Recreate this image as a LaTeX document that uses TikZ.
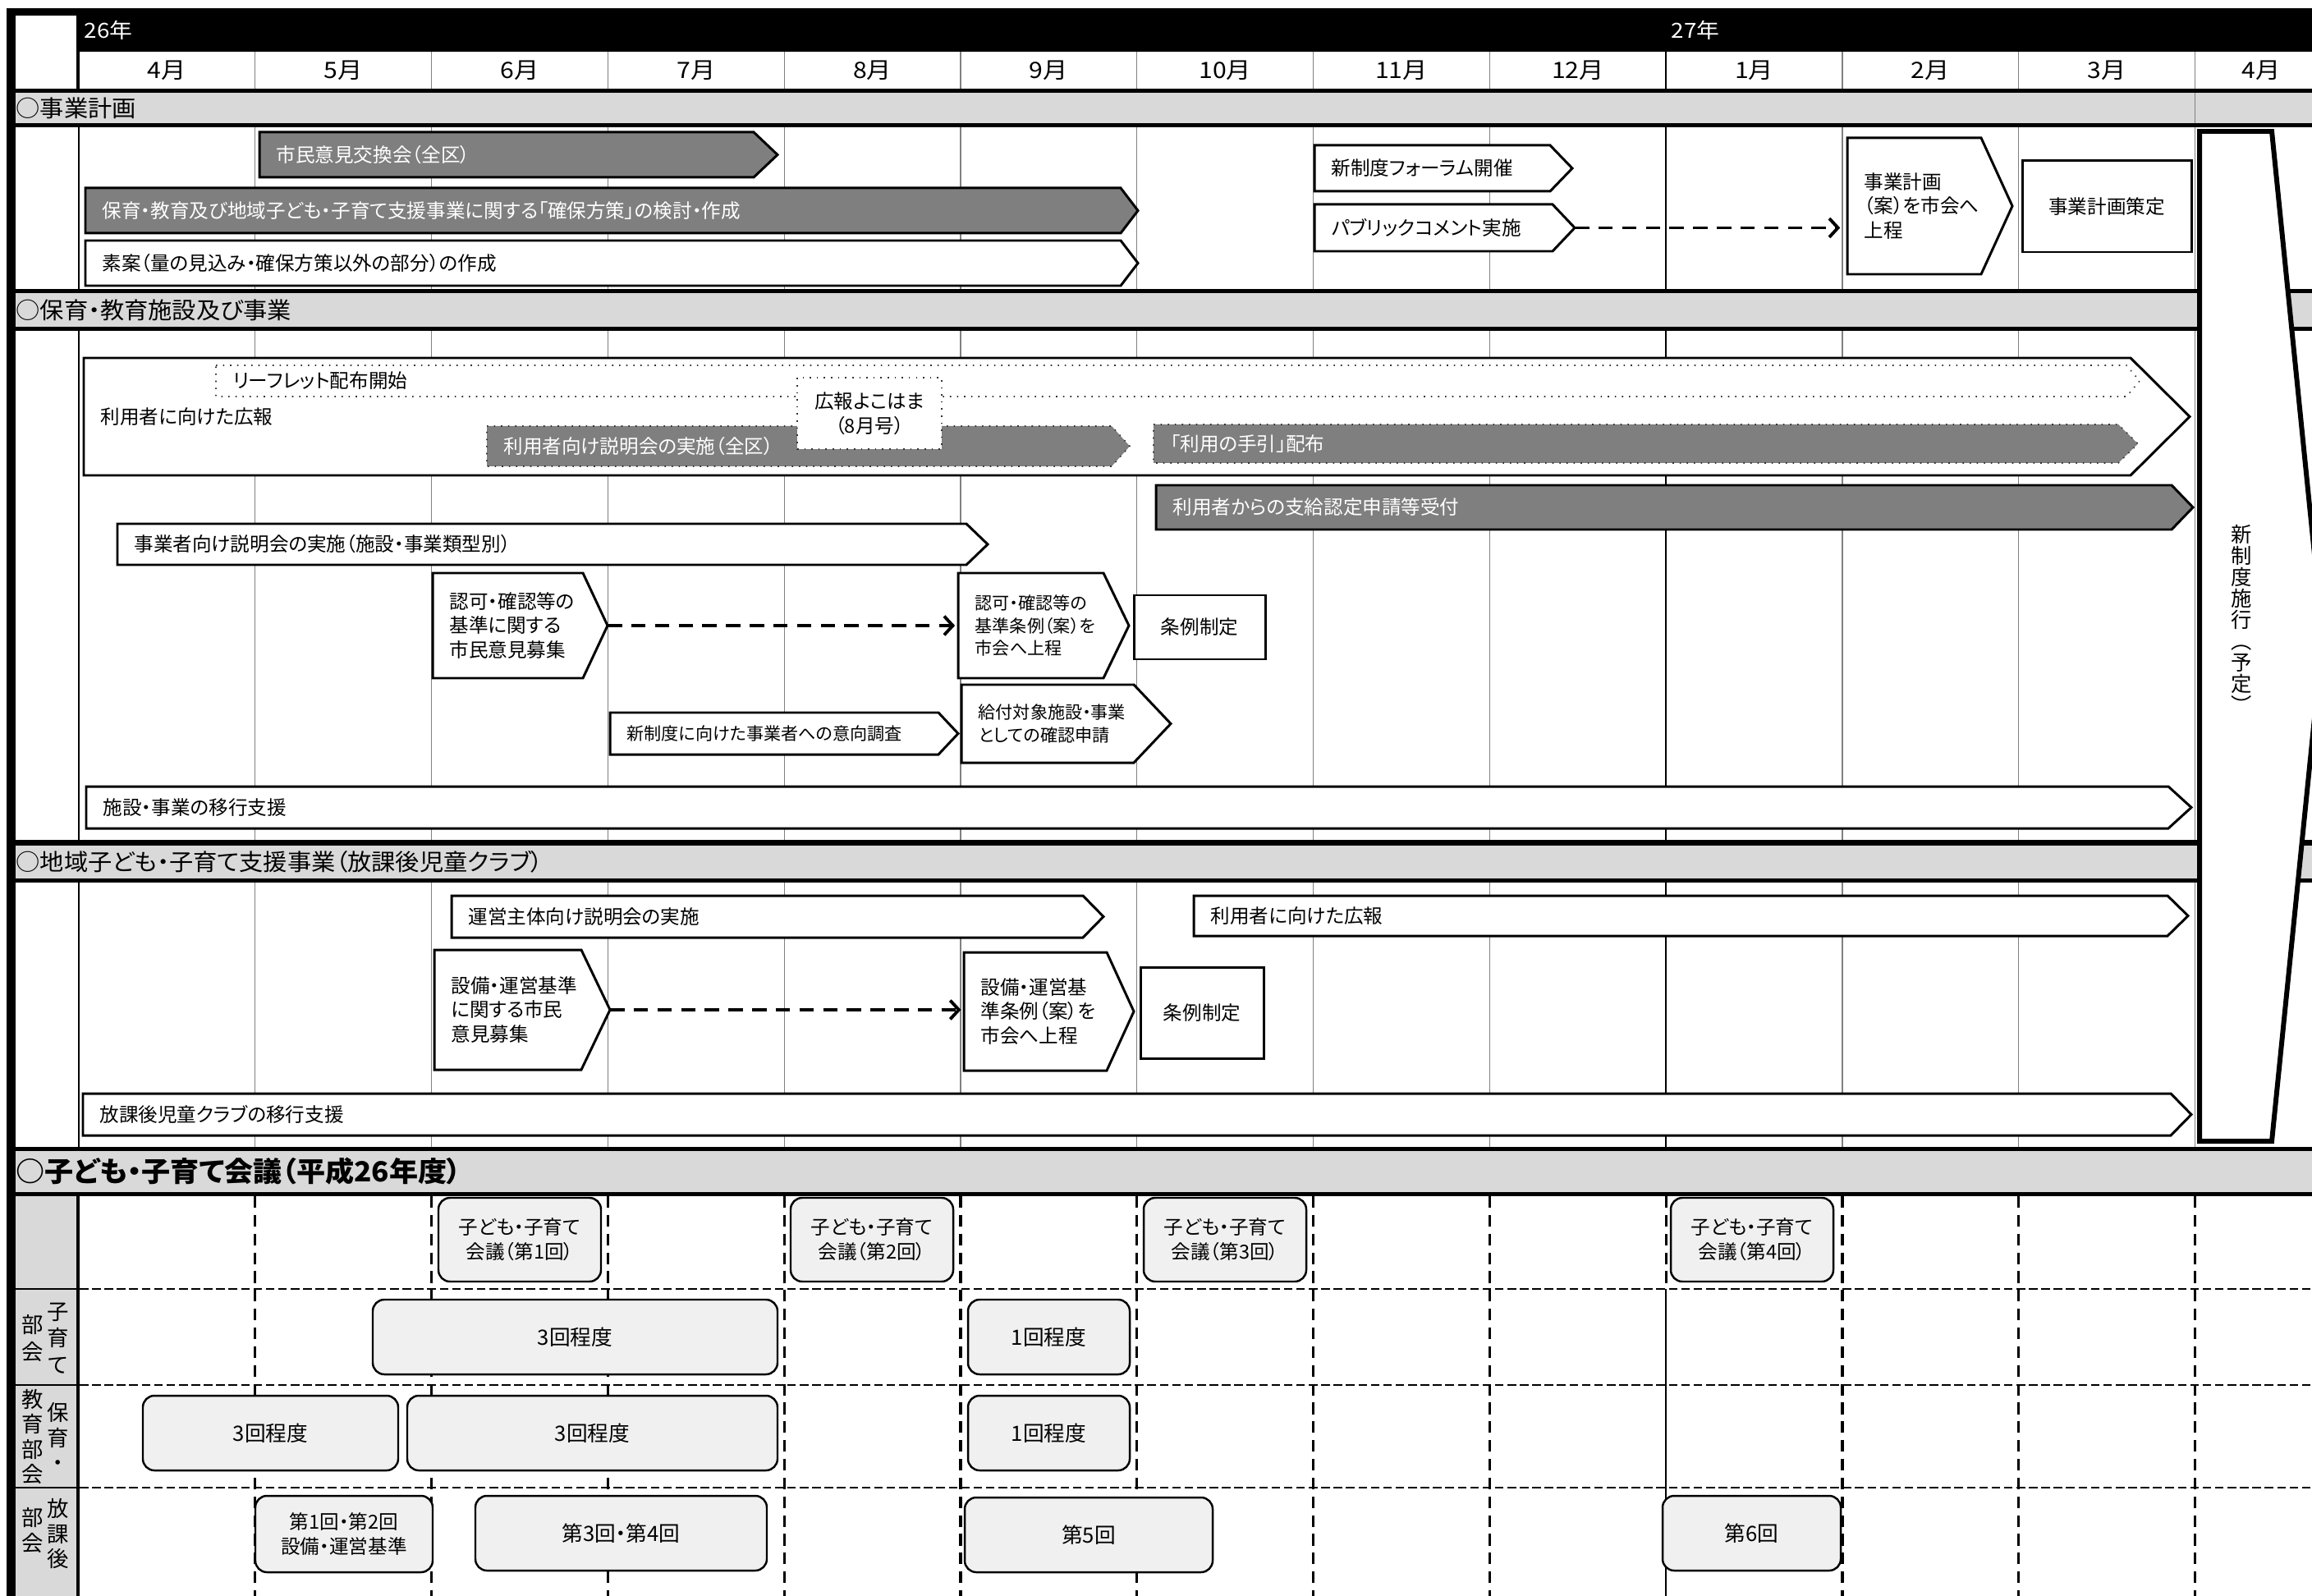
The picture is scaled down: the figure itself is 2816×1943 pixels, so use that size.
\documentclass[tikz,border=0pt]{standalone}
\usepackage{fontspec}
\setmainfont{Noto Sans CJK JP}[RawFeature=+palt]
\newfontfamily\jpw{Noto Sans CJK JP}[FakeStretch=1.1,RawFeature=+palt]
\newfontfamily\jph{Noto Sans CJK JP}[FakeStretch=1.04,RawFeature=+palt]
\usetikzlibrary{arrows.meta,fit}
\definecolor{hdrgray}{HTML}{D9D9D9}
\definecolor{bardark}{HTML}{7F7F7F}
\definecolor{meetfill}{HTML}{F0F0F0}
\definecolor{gridgray}{HTML}{808080}
\tikzset{
  gridline/.style={draw=gridgray, line width=0.35pt},
  yearline/.style={draw=black, line width=0.6pt},
  whitebar/.style={draw=black, line width=0.85pt, fill=white, line join=miter},
  darkbar/.style={draw=black, line width=0.85pt, fill=bardark, line join=miter},
  dotwhite/.style={draw=black!80, line width=0.45pt, dotted, fill=white},
  dotdark/.style={draw=black!80, line width=0.45pt, dotted, fill=bardark},
  btxt/.style={anchor=west, inner sep=0pt, align=left, font=\fontsize{6.7}{8.5}\selectfont},
  wtxt/.style={btxt, text=white},
  stxt/.style={anchor=west, inner sep=0pt, align=left, font=\fontsize{6}{7.9}\selectfont},
  ctxt/.style={inner sep=0pt, align=center, font=\fontsize{6.7}{8.5}\selectfont},
  ctxtb/.style={inner sep=0pt, align=center, font=\fontsize{7.3}{8.5}\selectfont},
  rectbox/.style={draw=black, line width=0.85pt, fill=white, inner sep=0pt},
  rbox/.style={draw=black, line width=0.7pt, fill=meetfill, rounded corners=4pt, inner sep=0pt},
  conn/.style={line width=1.1pt, dash pattern=on 5pt off 3.2pt, -{Straight Barb[length=3pt,width=6.5pt]}},
  hdash/.style={line width=0.7pt, dash pattern=on 3pt off 1.3pt},
  vdash/.style={line width=0.9pt, dash pattern=on 4pt off 2.5pt},
  sechdr/.style={anchor=west, inner sep=0pt, font=\jph\fontsize{8}{9}\selectfont},
  sechdrb/.style={anchor=west, inner sep=0pt, font=\jph\bfseries\fontsize{9.6}{10}\selectfont},
  mon/.style={inner sep=0pt, font=\jpw\fontsize{7.8}{8}\selectfont},
  yr/.style={anchor=west, inner sep=0pt, text=white, font=\jpw\fontsize{7.2}{8}\selectfont},
  vlab/.style={inner sep=0pt, align=center, font=\fontsize{7.2}{7.4}\selectfont},
  rowlab/.style={inner sep=0pt, align=center, font=\fontsize{7.5}{8.6}\selectfont},
}
\newcommand\arbox[9]{%
  \path[#7] (#2,#3) -- (#4,#3) -- (#5,{(#3+#6)/2}) -- (#4,#6) -- (#2,#6) -- cycle;
  \coordinate (#1-in) at (#2,{(#3+#6)/2});
  \coordinate (#1-tip) at (#5,{(#3+#6)/2});
  \node[#8] (#1) at ({#2+20},{(#3+#6)/2}) {#9};}
% box with centred text: name, style, x1, y1, x2, y2, text style, text
\newcommand\tbox[8]{%
  \node[#2, fit={(#3,#4) (#5,#6)}] (#1) {};
  \node[#7] (#1-t) at (#1.center) {#8};}
\begin{document}
\begin{tikzpicture}[x=0.01cm,y=-0.01cm]
\useasboundingbox (0,0) rectangle (2816,1943);
\begin{scope}
\clip (0,0) rectangle (2816,1943);
% ---------- frame and bands ----------
\fill[black] (8,10) rectangle (2840,1960);
\fill[white] (19,19) rectangle (93,108);
\fill[white] (97,63) rectangle (2840,108);
\fill[hdrgray] (19,113) rectangle (2840,150);
\fill[white] (19,155) rectangle (2840,352);
\fill[hdrgray] (19,357) rectangle (2840,398);
\fill[white] (19,403) rectangle (2840,1023);
\fill[hdrgray] (19,1030) rectangle (2840,1070);
\fill[white] (19,1075) rectangle (2840,1397);
\fill[hdrgray] (19,1402) rectangle (2840,1452);
\fill[white] (97,1457) rectangle (2840,1960);
\fill[hdrgray] (19,1457) rectangle (93,1960);
% ---------- grid ----------
\foreach \i in {1,...,12} {
  \draw[gridline] ({96+214.8*\i},63) -- ({96+214.8*\i},108);
  \draw[gridline] ({96+214.8*\i},155) -- ({96+214.8*\i},352);
  \draw[gridline] ({96+214.8*\i},403) -- ({96+214.8*\i},1023);
  \draw[gridline] ({96+214.8*\i},1075) -- ({96+214.8*\i},1397);
}
\draw[gridline] (2673.6,113) -- (2673.6,150);
\foreach \ya/\yb in {63/108,155/352,403/1023,1075/1397} {
  \draw[yearline] (2029.2,\ya) -- (2029.2,\yb);
}
\foreach \ya/\yb in {155/352,403/1023,1075/1397} {
  \draw[line width=0.6pt] (96,\ya) -- (96,\yb);
}
% section 4 grid
\foreach \yy in {1570,1687,1812} {
  \draw[hdash] (97,\yy) -- (2840,\yy);
  \draw[line width=0.6pt] (19,\yy) -- (93,\yy);
}
\foreach \i in {1,...,8,10,11,12} {
  \draw[vdash] ({96+214.8*\i},1457) -- ({96+214.8*\i},1960);
}
\draw[vdash] (2029.2,1457) -- (2029.2,1570);
\draw[line width=0.55pt] (2029.2,1570) -- (2029.2,1960);
% ---------- header texts ----------
\node[yr] (y26) at (102,37) {26年};
\node[yr] (y27) at (2035,37) {27年};
\foreach \lab [count=\i from 0] in {4月,5月,6月,7月,8月,9月,10月,11月,12月,1月,2月,3月}
  \node[mon] (mon\i) at ({96+214.8*(\i+0.5)},86) {\lab};
\node[mon] (mon12) at (2754,86) {4月};
\node[sechdr] (sec1) at (19,131.5) {○事業計画};
\node[sechdr] (sec2) at (19,377.5) {○保育・教育施設及び事業};
\node[sechdr] (sec3) at (19,1050) {○地域子ども・子育て支援事業（放課後児童クラブ）};
\node[sechdrb] (sec4) at (19,1427) {○子ども・子育て会議（平成26年度）};
% ---------- section 1 ----------
\arbox{s1a}{316}{161}{918}{947}{216}{darkbar}{wtxt}{市民意見交換会（全区）}
\arbox{s1b}{104}{229}{1365}{1386}{284}{darkbar}{wtxt}{保育・教育及び地域子ども・子育て支援事業に関する「確保方策」の検討・作成}
\arbox{s1c}{104}{293}{1365}{1386}{348}{whitebar}{btxt}{素案（量の見込み・確保方策以外の部分）の作成}
\arbox{forum}{1601}{177}{1888}{1915}{233}{whitebar}{btxt}{新制度フォーラム開催}
\arbox{pubcom}{1601}{249}{1891}{1918}{306}{whitebar}{btxt}{パブリックコメント実施}
\arbox{keikaku}{2250}{168}{2413}{2451}{334}{whitebar}{btxt}{事業計画\\（案）を市会へ\\上程}
\tbox{sakutei}{rectbox}{2463}{196}{2669}{307}{ctxt}{事業計画策定}
\draw[conn, shorten >=2.5pt] (pubcom-tip) -- (pubcom-tip -| keikaku-in);
% ---------- section 2 ----------
\arbox{bigkoho}{102}{436}{2595}{2667}{579}{whitebar}{btxt}{利用者に向けた広報}
\arbox{leaf}{263}{445}{2590}{2606}{483}{dotwhite}{btxt}{リーフレット配布開始}
\arbox{setsumei}{593}{519}{1354}{1376}{568}{dotdark}{wtxt}{利用者向け説明会の実施（全区）}
\tbox{kohoyoko}{rectbox, draw=black!80, line width=0.45pt, dotted}{971}{460}{1147}{547}{ctxt}{広報よこはま\\（8月号）}
\arbox{tebiki}{1405}{517}{2580}{2604}{564}{dotdark}{wtxt}{「利用の手引」配布}
\arbox{shikyu}{1408}{591}{2645}{2671}{645}{darkbar}{wtxt}{利用者からの支給認定申請等受付}
\arbox{jigyosha}{143}{638}{1177}{1203}{688}{whitebar}{btxt}{事業者向け説明会の実施（施設・事業類型別）}
\arbox{ninka1}{527}{698}{710}{740}{826}{whitebar}{btxt}{認可・確認等の\\基準に関する\\市民意見募集}
\arbox{ninka2}{1167}{698}{1344}{1375}{826}{whitebar}{stxt}{認可・確認等の\\基準条例（案）を\\市会へ上程}
\tbox{jorei1}{rectbox}{1381}{725}{1541}{803}{ctxt}{条例制定}
\draw[conn, shorten >=1.1pt] (ninka1-tip) -- (ninka2-in);
\arbox{ikou}{743}{868}{1143}{1167}{919}{whitebar}{stxt}{新制度に向けた事業者への意向調査}
\arbox{kakunin}{1171}{834}{1381}{1426}{929}{whitebar}{stxt}{給付対象施設・事業\\としての確認申請}
\arbox{iko}{105}{958}{2641}{2669}{1009}{whitebar}{btxt}{施設・事業の移行支援}
% ---------- section 3 ----------
\arbox{unei}{550}{1091}{1319}{1344}{1142}{whitebar}{btxt}{運営主体向け説明会の実施}
\arbox{koho3}{1454}{1091}{2640}{2665}{1140}{whitebar}{btxt}{利用者に向けた広報}
\arbox{setsubi1}{529}{1157}{708}{743}{1303}{whitebar}{btxt}{設備・運営基準\\に関する市民\\意見募集}
\arbox{setsubi2}{1174}{1160}{1348}{1381}{1304}{whitebar}{btxt}{設備・運営基\\準条例（案）を\\市会へ上程}
\tbox{jorei2}{rectbox}{1389}{1178}{1539}{1289}{ctxt}{条例制定}
\draw[conn, shorten >=1pt] (setsubi1-tip) -- (setsubi1-tip -| setsubi2-in);
\arbox{houkago}{101}{1332}{2644}{2669}{1383}{whitebar}{btxt}{放課後児童クラブの移行支援}
% ---------- new system pentagon ----------
\draw[line width=1.7pt, fill=white, line join=miter] (2679,160) -- (2767,160) -- (2829,775) -- (2767,1390) -- (2679,1390) -- cycle;
\node[vlab] (shinseido) at (2730,754) {新\\制\\度\\施\\行\\︵\\予\\定\\︶};
% ---------- section 4 ----------
\node[rowlab, font=\fontsize{7.5}{9.3}\selectfont] (lab2r) at (71,1630) {子\\育\\て};
\node[rowlab, font=\fontsize{7.5}{9.3}\selectfont] (lab2l) at (40,1630) {部\\会};
\node[rowlab] (lab3r) at (71,1750) {保\\育\\・};
\node[rowlab] (lab3l) at (40,1750) {教\\育\\部\\会};
\node[rowlab] (lab4r) at (71,1868) {放\\課\\後};
\node[rowlab] (lab4l) at (40,1864) {部\\会};
\tbox{kaigi1}{rbox}{534}{1459}{732}{1561}{ctxt}{子ども・子育て\\会議（第1回）}
\tbox{kaigi2}{rbox}{963}{1459}{1161}{1561}{ctxt}{子ども・子育て\\会議（第2回）}
\tbox{kaigi3}{rbox}{1393}{1459}{1591}{1561}{ctxt}{子ども・子育て\\会議（第3回）}
\tbox{kaigi4}{rbox}{2035}{1459}{2233}{1561}{ctxt}{子ども・子育て\\会議（第4回）}
\tbox{kos1}{rbox}{454}{1583}{947}{1674}{ctxtb}{3回程度}
\tbox{kos2}{rbox}{1179}{1583}{1376}{1674}{ctxtb}{1回程度}
\tbox{hoi1}{rbox}{174}{1700}{485}{1791}{ctxtb}{3回程度}
\tbox{hoi2}{rbox}{496}{1700}{947}{1791}{ctxtb}{3回程度}
\tbox{hoi3}{rbox}{1179}{1700}{1376}{1791}{ctxtb}{1回程度}
\tbox{hok1}{rbox}{311}{1822}{527}{1915}{ctxt}{第1回・第2回\\設備・運営基準}
\tbox{hok2}{rbox}{579}{1822}{934}{1913}{ctxtb}{第3回・第4回}
\tbox{hok3}{rbox}{1175}{1824}{1477}{1915}{ctxtb}{第5回}
\tbox{hok4}{rbox}{2025}{1822}{2242}{1913}{ctxtb}{第6回}
\end{scope}
\end{tikzpicture}
\end{document}
